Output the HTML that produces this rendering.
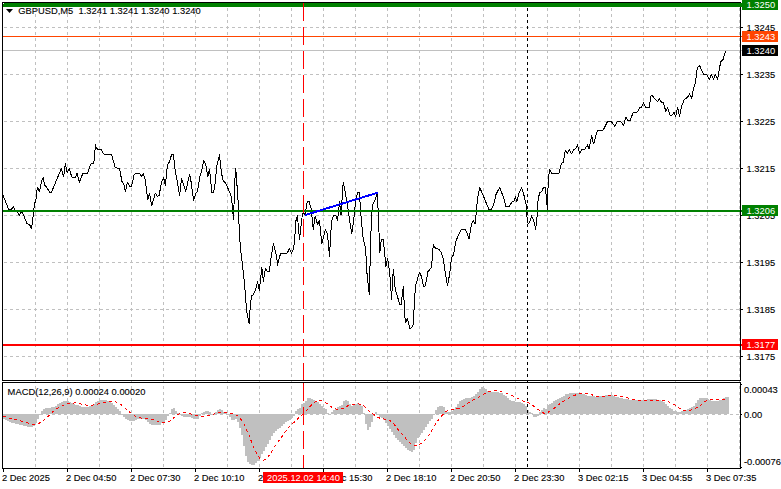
<!DOCTYPE html>
<html><head><meta charset="utf-8"><title>GBPUSD,M5</title>
<style>html,body{margin:0;padding:0;background:#fff;}body{width:781px;height:489px;overflow:hidden;}svg{display:block;position:absolute;left:0;top:0;}text{font-family:"Liberation Sans", sans-serif;font-size:9.8px;fill:#000;white-space:pre;stroke:#000;stroke-width:0.12px;}.w{fill:#fff;stroke:none;}</style></head><body>
<svg width="781" height="489" viewBox="0 0 781 489">
<rect x="0" y="0" width="781" height="489" fill="#fff"/>
<g stroke="#c0c0c0" stroke-width="1" shape-rendering="crispEdges" fill="none">
<line x1="35.5" y1="2" x2="35.5" y2="468" stroke-dasharray="3 3"/>
<line x1="67.5" y1="2" x2="67.5" y2="468" stroke-dasharray="3 3"/>
<line x1="99.5" y1="2" x2="99.5" y2="468" stroke-dasharray="3 3"/>
<line x1="131.5" y1="2" x2="131.5" y2="468" stroke-dasharray="3 3"/>
<line x1="163.5" y1="2" x2="163.5" y2="468" stroke-dasharray="3 3"/>
<line x1="195.5" y1="2" x2="195.5" y2="468" stroke-dasharray="3 3"/>
<line x1="227.5" y1="2" x2="227.5" y2="468" stroke-dasharray="3 3"/>
<line x1="259.5" y1="2" x2="259.5" y2="468" stroke-dasharray="3 3"/>
<line x1="291.5" y1="2" x2="291.5" y2="468" stroke-dasharray="3 3"/>
<line x1="323.5" y1="2" x2="323.5" y2="468" stroke-dasharray="3 3"/>
<line x1="355.5" y1="2" x2="355.5" y2="468" stroke-dasharray="3 3"/>
<line x1="387.5" y1="2" x2="387.5" y2="468" stroke-dasharray="3 3"/>
<line x1="419.5" y1="2" x2="419.5" y2="468" stroke-dasharray="3 3"/>
<line x1="451.5" y1="2" x2="451.5" y2="468" stroke-dasharray="3 3"/>
<line x1="483.5" y1="2" x2="483.5" y2="468" stroke-dasharray="3 3"/>
<line x1="515.5" y1="2" x2="515.5" y2="468" stroke-dasharray="3 3"/>
<line x1="547.5" y1="2" x2="547.5" y2="468" stroke-dasharray="3 3"/>
<line x1="579.5" y1="2" x2="579.5" y2="468" stroke-dasharray="3 3"/>
<line x1="611.5" y1="2" x2="611.5" y2="468" stroke-dasharray="3 3"/>
<line x1="643.5" y1="2" x2="643.5" y2="468" stroke-dasharray="3 3"/>
<line x1="675.5" y1="2" x2="675.5" y2="468" stroke-dasharray="3 3"/>
<line x1="707.5" y1="2" x2="707.5" y2="468" stroke-dasharray="3 3"/>
<line x1="739.5" y1="2" x2="739.5" y2="468" stroke-dasharray="3 3"/>
<line x1="4" y1="27.5" x2="740" y2="27.5" stroke-dasharray="3 3"/>
<line x1="4" y1="74.5" x2="740" y2="74.5" stroke-dasharray="3 3"/>
<line x1="4" y1="121.5" x2="740" y2="121.5" stroke-dasharray="3 3"/>
<line x1="4" y1="168.5" x2="740" y2="168.5" stroke-dasharray="3 3"/>
<line x1="4" y1="215.5" x2="740" y2="215.5" stroke-dasharray="3 3"/>
<line x1="4" y1="262.5" x2="740" y2="262.5" stroke-dasharray="3 3"/>
<line x1="4" y1="309.5" x2="740" y2="309.5" stroke-dasharray="3 3"/>
<line x1="4" y1="356.5" x2="740" y2="356.5" stroke-dasharray="3 3"/>
<line x1="4" y1="414.5" x2="740" y2="414.5" stroke-dasharray="3 3"/>
</g>
<g fill="#c0c0c0" shape-rendering="crispEdges">
<rect x="3" y="414" width="2" height="5"/>
<rect x="5" y="414" width="2" height="6"/>
<rect x="7" y="414" width="2" height="7"/>
<rect x="9" y="414" width="2" height="8"/>
<rect x="11" y="414" width="2" height="9"/>
<rect x="13" y="414" width="2" height="9"/>
<rect x="15" y="414" width="2" height="10"/>
<rect x="17" y="414" width="2" height="10"/>
<rect x="19" y="414" width="2" height="11"/>
<rect x="21" y="414" width="2" height="11"/>
<rect x="23" y="414" width="2" height="12"/>
<rect x="25" y="414" width="2" height="12"/>
<rect x="27" y="414" width="2" height="13"/>
<rect x="29" y="414" width="2" height="13"/>
<rect x="31" y="414" width="2" height="13"/>
<rect x="33" y="414" width="2" height="12"/>
<rect x="35" y="414" width="2" height="9"/>
<rect x="37" y="414" width="2" height="5"/>
<rect x="39" y="414" width="2" height="1"/>
<rect x="41" y="411" width="2" height="3"/>
<rect x="43" y="409" width="2" height="5"/>
<rect x="45" y="408" width="2" height="6"/>
<rect x="47" y="408" width="2" height="6"/>
<rect x="49" y="408" width="2" height="6"/>
<rect x="51" y="407" width="2" height="7"/>
<rect x="53" y="407" width="2" height="7"/>
<rect x="55" y="406" width="2" height="8"/>
<rect x="57" y="404" width="2" height="10"/>
<rect x="59" y="403" width="2" height="11"/>
<rect x="61" y="402" width="2" height="12"/>
<rect x="63" y="401" width="2" height="13"/>
<rect x="65" y="401" width="2" height="13"/>
<rect x="67" y="401" width="2" height="13"/>
<rect x="69" y="402" width="2" height="12"/>
<rect x="71" y="403" width="2" height="11"/>
<rect x="73" y="404" width="2" height="10"/>
<rect x="75" y="405" width="2" height="9"/>
<rect x="77" y="405" width="2" height="9"/>
<rect x="79" y="406" width="2" height="8"/>
<rect x="81" y="407" width="2" height="7"/>
<rect x="83" y="407" width="2" height="7"/>
<rect x="85" y="407" width="2" height="7"/>
<rect x="87" y="407" width="2" height="7"/>
<rect x="89" y="406" width="2" height="8"/>
<rect x="91" y="406" width="2" height="8"/>
<rect x="93" y="404" width="2" height="10"/>
<rect x="95" y="402" width="2" height="12"/>
<rect x="97" y="401" width="2" height="13"/>
<rect x="99" y="400" width="2" height="14"/>
<rect x="101" y="400" width="2" height="14"/>
<rect x="103" y="400" width="2" height="14"/>
<rect x="105" y="400" width="2" height="14"/>
<rect x="107" y="401" width="2" height="13"/>
<rect x="109" y="402" width="2" height="12"/>
<rect x="111" y="403" width="2" height="11"/>
<rect x="113" y="405" width="2" height="9"/>
<rect x="115" y="407" width="2" height="7"/>
<rect x="117" y="409" width="2" height="5"/>
<rect x="119" y="411" width="2" height="3"/>
<rect x="121" y="414" width="2" height="1"/>
<rect x="123" y="414" width="2" height="3"/>
<rect x="125" y="414" width="2" height="5"/>
<rect x="127" y="414" width="2" height="6"/>
<rect x="129" y="414" width="2" height="7"/>
<rect x="131" y="414" width="2" height="7"/>
<rect x="133" y="414" width="2" height="7"/>
<rect x="135" y="414" width="2" height="6"/>
<rect x="137" y="414" width="2" height="5"/>
<rect x="139" y="414" width="2" height="5"/>
<rect x="141" y="414" width="2" height="5"/>
<rect x="143" y="414" width="2" height="5"/>
<rect x="145" y="414" width="2" height="6"/>
<rect x="147" y="414" width="2" height="8"/>
<rect x="149" y="414" width="2" height="10"/>
<rect x="151" y="414" width="2" height="11"/>
<rect x="153" y="414" width="2" height="11"/>
<rect x="155" y="414" width="2" height="11"/>
<rect x="157" y="414" width="2" height="11"/>
<rect x="159" y="414" width="2" height="11"/>
<rect x="161" y="414" width="2" height="9"/>
<rect x="163" y="414" width="2" height="8"/>
<rect x="165" y="414" width="2" height="6"/>
<rect x="167" y="414" width="2" height="2"/>
<rect x="169" y="413" width="2" height="1"/>
<rect x="171" y="409" width="2" height="5"/>
<rect x="173" y="408" width="2" height="6"/>
<rect x="175" y="411" width="2" height="3"/>
<rect x="177" y="413" width="2" height="1"/>
<rect x="179" y="414" width="2" height="1"/>
<rect x="181" y="414" width="2" height="2"/>
<rect x="183" y="414" width="2" height="3"/>
<rect x="185" y="414" width="2" height="3"/>
<rect x="187" y="414" width="2" height="3"/>
<rect x="189" y="414" width="2" height="3"/>
<rect x="191" y="414" width="2" height="4"/>
<rect x="193" y="414" width="2" height="5"/>
<rect x="195" y="414" width="2" height="5"/>
<rect x="197" y="414" width="2" height="5"/>
<rect x="199" y="414" width="2" height="2"/>
<rect x="201" y="413" width="2" height="1"/>
<rect x="203" y="412" width="2" height="2"/>
<rect x="205" y="411" width="2" height="3"/>
<rect x="207" y="411" width="2" height="3"/>
<rect x="209" y="412" width="2" height="2"/>
<rect x="211" y="414" width="2" height="1"/>
<rect x="213" y="414" width="2" height="1"/>
<rect x="215" y="412" width="2" height="2"/>
<rect x="217" y="410" width="2" height="4"/>
<rect x="219" y="409" width="2" height="5"/>
<rect x="221" y="410" width="2" height="4"/>
<rect x="223" y="412" width="2" height="2"/>
<rect x="225" y="413" width="2" height="1"/>
<rect x="227" y="414" width="2" height="1"/>
<rect x="229" y="414" width="2" height="3"/>
<rect x="231" y="414" width="2" height="6"/>
<rect x="233" y="414" width="2" height="6"/>
<rect x="235" y="414" width="2" height="5"/>
<rect x="237" y="414" width="2" height="8"/>
<rect x="239" y="414" width="2" height="14"/>
<rect x="241" y="414" width="2" height="21"/>
<rect x="243" y="414" width="2" height="32"/>
<rect x="245" y="414" width="2" height="42"/>
<rect x="247" y="414" width="2" height="48"/>
<rect x="249" y="414" width="2" height="50"/>
<rect x="251" y="414" width="2" height="51"/>
<rect x="253" y="414" width="2" height="51"/>
<rect x="255" y="414" width="2" height="49"/>
<rect x="257" y="414" width="2" height="47"/>
<rect x="259" y="414" width="2" height="44"/>
<rect x="261" y="414" width="2" height="40"/>
<rect x="263" y="414" width="2" height="37"/>
<rect x="265" y="414" width="2" height="33"/>
<rect x="267" y="414" width="2" height="30"/>
<rect x="269" y="414" width="2" height="26"/>
<rect x="271" y="414" width="2" height="22"/>
<rect x="273" y="414" width="2" height="19"/>
<rect x="275" y="414" width="2" height="17"/>
<rect x="277" y="414" width="2" height="15"/>
<rect x="279" y="414" width="2" height="14"/>
<rect x="281" y="414" width="2" height="12"/>
<rect x="283" y="414" width="2" height="10"/>
<rect x="285" y="414" width="2" height="8"/>
<rect x="287" y="414" width="2" height="7"/>
<rect x="289" y="414" width="2" height="6"/>
<rect x="291" y="414" width="2" height="4"/>
<rect x="293" y="414" width="2" height="2"/>
<rect x="295" y="411" width="2" height="3"/>
<rect x="297" y="409" width="2" height="5"/>
<rect x="299" y="408" width="2" height="6"/>
<rect x="301" y="404" width="2" height="10"/>
<rect x="303" y="403" width="2" height="11"/>
<rect x="305" y="401" width="2" height="13"/>
<rect x="307" y="398" width="2" height="16"/>
<rect x="309" y="398" width="2" height="16"/>
<rect x="311" y="399" width="2" height="15"/>
<rect x="313" y="400" width="2" height="14"/>
<rect x="315" y="401" width="2" height="13"/>
<rect x="317" y="402" width="2" height="12"/>
<rect x="319" y="404" width="2" height="10"/>
<rect x="321" y="406" width="2" height="8"/>
<rect x="323" y="408" width="2" height="6"/>
<rect x="325" y="409" width="2" height="5"/>
<rect x="327" y="413" width="2" height="1"/>
<rect x="329" y="414" width="2" height="1"/>
<rect x="331" y="412" width="2" height="2"/>
<rect x="333" y="410" width="2" height="4"/>
<rect x="335" y="409" width="2" height="5"/>
<rect x="337" y="407" width="2" height="7"/>
<rect x="339" y="406" width="2" height="8"/>
<rect x="341" y="405" width="2" height="9"/>
<rect x="343" y="401" width="2" height="13"/>
<rect x="345" y="400" width="2" height="14"/>
<rect x="347" y="401" width="2" height="13"/>
<rect x="349" y="404" width="2" height="10"/>
<rect x="351" y="406" width="2" height="8"/>
<rect x="353" y="405" width="2" height="9"/>
<rect x="355" y="404" width="2" height="10"/>
<rect x="357" y="403" width="2" height="11"/>
<rect x="359" y="404" width="2" height="10"/>
<rect x="361" y="406" width="2" height="8"/>
<rect x="363" y="413" width="2" height="1"/>
<rect x="365" y="414" width="2" height="10"/>
<rect x="367" y="414" width="2" height="16"/>
<rect x="369" y="414" width="2" height="13"/>
<rect x="371" y="414" width="2" height="8"/>
<rect x="373" y="414" width="2" height="2"/>
<rect x="375" y="412" width="2" height="2"/>
<rect x="377" y="414" width="2" height="1"/>
<rect x="379" y="414" width="2" height="3"/>
<rect x="381" y="414" width="2" height="4"/>
<rect x="383" y="414" width="2" height="6"/>
<rect x="385" y="414" width="2" height="9"/>
<rect x="387" y="414" width="2" height="12"/>
<rect x="389" y="414" width="2" height="15"/>
<rect x="391" y="414" width="2" height="18"/>
<rect x="393" y="414" width="2" height="21"/>
<rect x="395" y="414" width="2" height="24"/>
<rect x="397" y="414" width="2" height="26"/>
<rect x="399" y="414" width="2" height="28"/>
<rect x="401" y="414" width="2" height="30"/>
<rect x="403" y="414" width="2" height="32"/>
<rect x="405" y="414" width="2" height="34"/>
<rect x="407" y="414" width="2" height="36"/>
<rect x="409" y="414" width="2" height="37"/>
<rect x="411" y="414" width="2" height="38"/>
<rect x="413" y="414" width="2" height="36"/>
<rect x="415" y="414" width="2" height="29"/>
<rect x="417" y="414" width="2" height="24"/>
<rect x="419" y="414" width="2" height="21"/>
<rect x="421" y="414" width="2" height="19"/>
<rect x="423" y="414" width="2" height="16"/>
<rect x="425" y="414" width="2" height="13"/>
<rect x="427" y="414" width="2" height="10"/>
<rect x="429" y="414" width="2" height="7"/>
<rect x="431" y="414" width="2" height="5"/>
<rect x="433" y="414" width="2" height="1"/>
<rect x="435" y="410" width="2" height="4"/>
<rect x="437" y="407" width="2" height="7"/>
<rect x="439" y="406" width="2" height="8"/>
<rect x="441" y="406" width="2" height="8"/>
<rect x="443" y="407" width="2" height="7"/>
<rect x="445" y="411" width="2" height="3"/>
<rect x="447" y="412" width="2" height="2"/>
<rect x="449" y="412" width="2" height="2"/>
<rect x="451" y="411" width="2" height="3"/>
<rect x="453" y="409" width="2" height="5"/>
<rect x="455" y="407" width="2" height="7"/>
<rect x="457" y="404" width="2" height="10"/>
<rect x="459" y="401" width="2" height="13"/>
<rect x="461" y="400" width="2" height="14"/>
<rect x="463" y="399" width="2" height="15"/>
<rect x="465" y="398" width="2" height="16"/>
<rect x="467" y="398" width="2" height="16"/>
<rect x="469" y="398" width="2" height="16"/>
<rect x="471" y="397" width="2" height="17"/>
<rect x="473" y="396" width="2" height="18"/>
<rect x="475" y="394" width="2" height="20"/>
<rect x="477" y="392" width="2" height="22"/>
<rect x="479" y="389" width="2" height="25"/>
<rect x="481" y="387" width="2" height="27"/>
<rect x="483" y="388" width="2" height="26"/>
<rect x="485" y="389" width="2" height="25"/>
<rect x="487" y="391" width="2" height="23"/>
<rect x="489" y="391" width="2" height="23"/>
<rect x="491" y="392" width="2" height="22"/>
<rect x="493" y="392" width="2" height="22"/>
<rect x="495" y="392" width="2" height="22"/>
<rect x="497" y="392" width="2" height="22"/>
<rect x="499" y="393" width="2" height="21"/>
<rect x="501" y="393" width="2" height="21"/>
<rect x="503" y="395" width="2" height="19"/>
<rect x="505" y="396" width="2" height="18"/>
<rect x="507" y="398" width="2" height="16"/>
<rect x="509" y="400" width="2" height="14"/>
<rect x="511" y="401" width="2" height="13"/>
<rect x="513" y="401" width="2" height="13"/>
<rect x="515" y="402" width="2" height="12"/>
<rect x="517" y="402" width="2" height="12"/>
<rect x="519" y="402" width="2" height="12"/>
<rect x="521" y="403" width="2" height="11"/>
<rect x="523" y="404" width="2" height="10"/>
<rect x="525" y="406" width="2" height="8"/>
<rect x="527" y="410" width="2" height="4"/>
<rect x="529" y="412" width="2" height="2"/>
<rect x="531" y="413" width="2" height="1"/>
<rect x="533" y="414" width="2" height="3"/>
<rect x="535" y="414" width="2" height="3"/>
<rect x="537" y="414" width="2" height="2"/>
<rect x="539" y="412" width="2" height="2"/>
<rect x="541" y="410" width="2" height="4"/>
<rect x="543" y="408" width="2" height="6"/>
<rect x="545" y="409" width="2" height="5"/>
<rect x="547" y="405" width="2" height="9"/>
<rect x="549" y="404" width="2" height="10"/>
<rect x="551" y="403" width="2" height="11"/>
<rect x="553" y="401" width="2" height="13"/>
<rect x="555" y="400" width="2" height="14"/>
<rect x="557" y="399" width="2" height="15"/>
<rect x="559" y="398" width="2" height="16"/>
<rect x="561" y="397" width="2" height="17"/>
<rect x="563" y="396" width="2" height="18"/>
<rect x="565" y="394" width="2" height="20"/>
<rect x="567" y="394" width="2" height="20"/>
<rect x="569" y="393" width="2" height="21"/>
<rect x="571" y="393" width="2" height="21"/>
<rect x="573" y="393" width="2" height="21"/>
<rect x="575" y="393" width="2" height="21"/>
<rect x="577" y="393" width="2" height="21"/>
<rect x="579" y="393" width="2" height="21"/>
<rect x="581" y="394" width="2" height="20"/>
<rect x="583" y="394" width="2" height="20"/>
<rect x="585" y="395" width="2" height="19"/>
<rect x="587" y="396" width="2" height="18"/>
<rect x="589" y="396" width="2" height="18"/>
<rect x="591" y="396" width="2" height="18"/>
<rect x="593" y="396" width="2" height="18"/>
<rect x="595" y="397" width="2" height="17"/>
<rect x="597" y="396" width="2" height="18"/>
<rect x="599" y="396" width="2" height="18"/>
<rect x="601" y="396" width="2" height="18"/>
<rect x="603" y="396" width="2" height="18"/>
<rect x="605" y="395" width="2" height="19"/>
<rect x="607" y="395" width="2" height="19"/>
<rect x="609" y="395" width="2" height="19"/>
<rect x="611" y="395" width="2" height="19"/>
<rect x="613" y="396" width="2" height="18"/>
<rect x="615" y="397" width="2" height="17"/>
<rect x="617" y="397" width="2" height="17"/>
<rect x="619" y="398" width="2" height="16"/>
<rect x="621" y="398" width="2" height="16"/>
<rect x="623" y="399" width="2" height="15"/>
<rect x="625" y="399" width="2" height="15"/>
<rect x="627" y="399" width="2" height="15"/>
<rect x="629" y="400" width="2" height="14"/>
<rect x="631" y="400" width="2" height="14"/>
<rect x="633" y="400" width="2" height="14"/>
<rect x="635" y="400" width="2" height="14"/>
<rect x="637" y="400" width="2" height="14"/>
<rect x="639" y="400" width="2" height="14"/>
<rect x="641" y="400" width="2" height="14"/>
<rect x="643" y="400" width="2" height="14"/>
<rect x="645" y="400" width="2" height="14"/>
<rect x="647" y="399" width="2" height="15"/>
<rect x="649" y="399" width="2" height="15"/>
<rect x="651" y="399" width="2" height="15"/>
<rect x="653" y="399" width="2" height="15"/>
<rect x="655" y="399" width="2" height="15"/>
<rect x="657" y="400" width="2" height="14"/>
<rect x="659" y="400" width="2" height="14"/>
<rect x="661" y="401" width="2" height="13"/>
<rect x="663" y="402" width="2" height="12"/>
<rect x="665" y="404" width="2" height="10"/>
<rect x="667" y="406" width="2" height="8"/>
<rect x="669" y="408" width="2" height="6"/>
<rect x="671" y="409" width="2" height="5"/>
<rect x="673" y="411" width="2" height="3"/>
<rect x="675" y="411" width="2" height="3"/>
<rect x="677" y="412" width="2" height="2"/>
<rect x="679" y="412" width="2" height="2"/>
<rect x="681" y="411" width="2" height="3"/>
<rect x="683" y="411" width="2" height="3"/>
<rect x="685" y="410" width="2" height="4"/>
<rect x="687" y="409" width="2" height="5"/>
<rect x="689" y="408" width="2" height="6"/>
<rect x="691" y="407" width="2" height="7"/>
<rect x="693" y="406" width="2" height="8"/>
<rect x="695" y="403" width="2" height="11"/>
<rect x="697" y="400" width="2" height="14"/>
<rect x="699" y="398" width="2" height="16"/>
<rect x="701" y="398" width="2" height="16"/>
<rect x="703" y="398" width="2" height="16"/>
<rect x="705" y="398" width="2" height="16"/>
<rect x="707" y="399" width="2" height="15"/>
<rect x="709" y="400" width="2" height="14"/>
<rect x="711" y="401" width="2" height="13"/>
<rect x="713" y="401" width="2" height="13"/>
<rect x="715" y="401" width="2" height="13"/>
<rect x="717" y="401" width="2" height="13"/>
<rect x="719" y="400" width="2" height="14"/>
<rect x="721" y="400" width="2" height="14"/>
<rect x="723" y="398" width="2" height="16"/>
<rect x="725" y="397" width="2" height="17"/>
<rect x="727" y="397" width="2" height="17"/>
</g>
<polyline points="3.0,416.1 8.3,417.8 16.6,420.0 25.0,422.0 30.0,423.6 34.1,424.4 39.1,423.3 43.3,420.6 47.4,417.0 51.6,412.8 56.6,408.6 63.2,405.3 69.9,403.3 76.6,402.8 83.2,404.5 89.9,405.6 96.5,404.5 104.9,402.3 113.2,401.5 118.2,402.3 123.2,406.5 126.7,409.6 130.8,413.0 135.8,416.6 141.6,418.3 148.3,418.5 154.1,419.6 160.0,422.5 165.8,423.0 169.9,421.3 174.1,417.6 178.3,414.3 184.1,412.6 189.9,413.5 195.7,415.5 201.6,416.6 207.4,415.5 213.2,414.3 219.9,412.1 226.5,412.6 233.2,413.5 238.2,416.3 242.5,421.3 245.8,428.0 249.2,435.4 252.5,444.6 255.8,452.0 260.0,458.7 263.3,460.4 266.6,458.7 270.8,452.9 275.0,446.3 279.1,440.4 283.3,434.6 288.3,428.0 293.3,423.0 299.1,417.6 304.1,413.0 308.2,408.8 312.4,403.8 316.6,401.0 322.4,400.5 327.4,403.8 332.4,407.6 337.4,409.6 342.4,408.8 347.4,406.0 352.3,404.3 358.2,403.8 363.3,405.5 367.5,409.6 371.7,413.0 375.8,416.0 380.8,418.8 387.5,419.3 392.5,422.1 397.5,428.8 402.4,434.6 407.4,440.4 412.4,444.9 418.3,445.4 424.1,441.3 429.1,434.6 433.2,428.0 436.6,422.1 440.7,417.0 445.7,411.3 451.5,409.6 459.0,408.3 464.9,405.5 470.7,401.3 476.5,398.3 481.7,395.3 487.5,391.7 494.1,390.3 500.8,391.5 506.6,393.3 512.5,395.8 518.3,398.6 524.1,401.6 529.9,403.3 535.8,407.8 540.8,411.6 544.1,413.3 548.2,412.3 554.1,408.3 559.9,403.6 566.6,399.5 572.4,396.1 578.2,394.0 584.9,393.6 590.7,394.5 596.5,396.1 603.2,396.6 607.5,396.1 614.1,395.3 620.8,396.6 627.5,397.8 633.3,399.5 639.9,400.3 646.6,400.3 653.3,400.3 659.9,400.3 666.6,401.1 671.6,403.3 675.7,405.3 679.9,408.6 683.2,410.6 686.6,410.6 691.5,410.0 696.5,407.8 701.5,404.5 705.7,401.1 709.9,400.0 716.5,399.5 723.2,400.0 725.7,399.5" fill="none" stroke="#ff0000" stroke-width="1" stroke-dasharray="3 3" shape-rendering="crispEdges"/>
<polyline points="3.0,195.3 5.0,200.0 8.8,209.9 11.2,209.7 13.4,206.4 15.0,209.9 18.2,212.9 19.3,215.6 20.6,212.3 22.4,212.3 26.9,223.5 29.6,224.6 31.5,228.6 32.7,219.3 34.3,205.2 36.2,198.0 36.8,190.5 37.6,187.3 39.4,191.7 41.6,181.0 43.4,177.4 44.3,184.6 46.6,187.3 49.7,192.2 51.5,192.2 61.4,168.4 63.6,177.0 65.4,163.5 67.2,172.9 69.4,168.4 71.7,177.0 75.7,177.0 77.0,173.4 79.3,182.3 82.9,173.4 87.4,173.4 90.9,164.0 93.6,163.0 94.5,158.6 95.4,144.2 95.9,147.3 97.4,149.1 101.0,149.3 103.6,154.0 111.5,154.2 115.3,167.8 119.4,168.3 122.0,181.5 123.7,184.0 125.4,191.6 127.4,182.3 129.6,186.4 131.4,187.0 134.1,175.0 135.6,173.3 139.4,173.3 141.8,176.8 143.3,173.6 145.2,180.0 147.8,200.0 149.5,193.3 151.6,205.8 155.4,193.0 157.4,196.3 159.1,195.8 161.6,181.6 163.6,177.5 165.3,185.8 167.4,165.0 169.1,162.5 171.6,154.7 173.3,154.2 175.3,171.6 177.4,181.6 179.6,195.8 181.6,178.3 185.7,191.6 189.6,174.1 191.2,182.5 193.6,200.8 195.7,193.3 197.4,191.6 199.9,176.6 201.6,171.6 203.7,160.0 205.7,164.1 207.9,176.6 209.5,169.1 211.9,192.4 213.5,192.4 214.9,185.0 216.9,165.8 219.4,155.0 221.5,173.3 223.2,180.8 225.7,183.3 229.8,192.4 231.5,197.4 233.5,219.9 234.8,180.8 235.7,168.3 236.8,182.5 238.5,207.4 239.3,233.7 241.4,257.0 242.1,262.0 243.8,276.9 245.6,295.9 246.3,308.6 247.7,316.4 249.2,323.8 249.4,317.0 250.6,303.0 251.7,295.9 253.1,295.2 255.5,290.3 257.6,281.8 259.3,290.3 261.9,267.7 263.3,281.1 265.4,268.4 267.2,271.2 269.3,271.2 271.0,258.4 273.4,243.4 275.4,251.5 276.9,257.6 277.4,266.0 279.5,256.5 281.1,253.4 287.3,253.0 289.4,248.4 291.5,253.0 293.4,249.2 294.6,241.8 295.6,222.0 297.4,215.4 299.5,239.6 302.5,213.3 303.5,212.6 304.9,214.7 307.3,202.0 309.1,201.3 311.2,209.0 313.3,229.5 315.2,216.1 317.6,224.6 319.4,220.3 321.8,243.6 325.3,229.5 327.4,233.7 329.5,256.3 331.5,221.5 333.6,215.7 335.8,215.7 337.6,220.1 339.6,201.8 341.0,215.2 343.2,182.0 344.6,189.1 347.0,201.8 349.2,217.3 351.7,233.8 353.7,220.1 355.5,202.5 357.6,192.6 359.3,192.6 361.1,217.3 363.2,239.0 365.5,247.5 367.1,274.9 369.3,294.9 370.5,245.0 371.7,211.7 373.1,203.2 375.2,199.7 377.1,193.3 378.1,208.8 379.5,245.0 379.8,252.5 381.3,239.6 383.3,239.6 384.6,252.5 385.9,266.6 387.6,258.3 388.8,266.6 390.4,279.9 391.5,300.0 393.3,269.1 395.4,290.5 396.9,294.3 399.5,304.2 401.3,304.2 402.5,291.3 403.5,286.9 403.8,295.4 404.6,313.8 405.6,323.0 407.1,318.4 408.5,322.0 409.7,328.1 411.2,328.1 413.3,324.6 413.8,313.8 414.8,296.4 415.5,285.5 419.6,272.4 421.2,275.8 423.7,286.6 425.4,285.8 427.9,271.6 430.9,268.3 432.5,258.3 433.2,244.1 435.4,248.3 438.7,249.1 441.2,252.5 443.2,258.3 445.4,273.3 447.5,285.8 449.5,274.9 451.5,258.3 453.7,254.1 455.8,241.6 458.2,235.5 461.6,229.3 465.3,229.1 467.5,234.1 469.1,239.1 471.6,223.2 473.6,220.8 475.0,224.1 475.8,217.4 477.5,199.1 479.6,187.5 481.6,191.6 485.0,200.0 489.1,210.0 491.6,209.1 493.6,205.0 495.8,195.0 499.6,187.5 503.3,196.6 505.8,206.3 509.1,206.3 512.4,201.6 514.1,200.8 515.3,196.6 516.9,201.6 519.1,192.5 521.6,187.5 524.1,195.8 526.2,205.0 526.9,216.6 528.2,224.1 529.9,221.6 531.6,215.8 533.6,219.9 535.7,229.1 536.9,218.3 538.2,198.3 539.9,192.5 541.6,191.6 543.5,187.5 545.4,187.5 546.5,198.3 547.4,210.0 548.2,181.6 549.6,169.1 551.6,173.3 559.0,173.3 561.4,163.5 563.4,162.4 565.3,150.0 567.5,153.3 569.5,149.6 571.6,154.0 573.6,150.0 575.8,148.3 577.5,145.0 579.6,153.6 581.6,149.6 585.0,149.0 587.4,145.0 589.1,149.0 591.6,135.8 593.6,144.0 597.4,130.3 603.3,130.0 607.4,121.6 611.2,121.6 614.9,126.3 617.4,121.6 620.7,121.3 623.6,125.8 625.7,117.0 627.9,120.8 629.9,120.8 633.2,112.5 637.2,112.0 639.8,107.8 641.7,107.0 643.5,102.8 645.5,107.2 649.4,107.2 650.7,96.6 651.8,95.0 653.5,97.2 657.4,101.6 659.4,98.8 661.4,102.1 663.4,102.6 665.8,111.3 667.5,107.6 670.5,116.0 672.3,115.0 674.2,112.2 675.6,116.5 677.6,107.3 679.5,116.8 681.5,106.5 684.5,99.2 687.6,97.3 689.6,93.9 691.8,98.1 693.3,89.6 695.3,83.5 697.3,67.4 699.5,65.4 703.4,74.0 706.8,74.6 709.4,79.2 711.4,74.3 713.7,79.2 715.3,74.3 717.6,79.2 720.7,61.7 723.0,59.7 725.6,50.9 726.5,50.0" fill="none" stroke="#000" stroke-width="1" stroke-linejoin="round" shape-rendering="crispEdges"/>
<g shape-rendering="crispEdges">
<rect x="3" y="50" width="739" height="1" fill="#c0c0c0"/>
<rect x="3" y="36" width="739" height="1" fill="#ff4500"/>
<rect x="3" y="210" width="739" height="2" fill="#008000"/>
<rect x="3" y="344" width="739" height="2" fill="#ff0000"/>
</g>
<line x1="305" y1="215.1" x2="377.6" y2="192.7" stroke="#0000ff" stroke-width="2" shape-rendering="crispEdges"/>
<g shape-rendering="crispEdges">
<rect x="3" y="3" width="740" height="4" fill="#008000"/>
<rect x="303" y="3" width="1" height="18" fill="#ff0000"/>
<rect x="303" y="27" width="1" height="18" fill="#ff0000"/>
<rect x="303" y="51" width="1" height="18" fill="#ff0000"/>
<rect x="303" y="75" width="1" height="18" fill="#ff0000"/>
<rect x="303" y="99" width="1" height="18" fill="#ff0000"/>
<rect x="303" y="123" width="1" height="18" fill="#ff0000"/>
<rect x="303" y="147" width="1" height="18" fill="#ff0000"/>
<rect x="303" y="171" width="1" height="18" fill="#ff0000"/>
<rect x="303" y="195" width="1" height="18" fill="#ff0000"/>
<rect x="303" y="219" width="1" height="18" fill="#ff0000"/>
<rect x="303" y="243" width="1" height="18" fill="#ff0000"/>
<rect x="303" y="267" width="1" height="18" fill="#ff0000"/>
<rect x="303" y="291" width="1" height="18" fill="#ff0000"/>
<rect x="303" y="315" width="1" height="18" fill="#ff0000"/>
<rect x="303" y="339" width="1" height="18" fill="#ff0000"/>
<rect x="303" y="363" width="1" height="17" fill="#ff0000"/>
<rect x="303" y="383" width="1" height="18" fill="#ff0000"/>
<rect x="303" y="407" width="1" height="18" fill="#ff0000"/>
<rect x="303" y="431" width="1" height="18" fill="#ff0000"/>
<rect x="303" y="455" width="1" height="13" fill="#ff0000"/>
<line x1="527.5" y1="8" x2="527.5" y2="468" stroke="#000" stroke-width="1" stroke-dasharray="3 3"/>
<rect x="2" y="2" width="739" height="1" fill="#000"/>
<rect x="2" y="2" width="1" height="379" fill="#000"/>
<rect x="2" y="380" width="739" height="1" fill="#000"/>
<rect x="740" y="7" width="1" height="374" fill="#000"/>
<rect x="2" y="382" width="739" height="1" fill="#000"/>
<rect x="2" y="382" width="1" height="87" fill="#000"/>
<rect x="2" y="468" width="739" height="1" fill="#000"/>
<rect x="740" y="382" width="1" height="87" fill="#000"/>
<rect x="3" y="3" width="1" height="1" fill="#fff"/>
<rect x="741" y="27" width="2" height="1" fill="#000"/>
<rect x="741" y="74" width="2" height="1" fill="#000"/>
<rect x="741" y="121" width="2" height="1" fill="#000"/>
<rect x="741" y="168" width="2" height="1" fill="#000"/>
<rect x="741" y="215" width="2" height="1" fill="#000"/>
<rect x="741" y="262" width="2" height="1" fill="#000"/>
<rect x="741" y="309" width="2" height="1" fill="#000"/>
<rect x="741" y="356" width="2" height="1" fill="#000"/>
<rect x="741" y="384" width="1" height="1" fill="#000"/>
<rect x="741" y="414" width="1" height="1" fill="#000"/>
<rect x="741" y="467" width="1" height="1" fill="#000"/>
<rect x="3" y="469" width="1" height="3" fill="#000"/>
<rect x="67" y="469" width="1" height="3" fill="#000"/>
<rect x="131" y="469" width="1" height="3" fill="#000"/>
<rect x="195" y="469" width="1" height="3" fill="#000"/>
<rect x="259" y="469" width="1" height="3" fill="#000"/>
<rect x="323" y="469" width="1" height="3" fill="#000"/>
<rect x="387" y="469" width="1" height="3" fill="#000"/>
<rect x="451" y="469" width="1" height="3" fill="#000"/>
<rect x="515" y="469" width="1" height="3" fill="#000"/>
<rect x="579" y="469" width="1" height="3" fill="#000"/>
<rect x="643" y="469" width="1" height="3" fill="#000"/>
<rect x="707" y="469" width="1" height="3" fill="#000"/>
</g>
<polygon points="6,9 13,9 9.5,13" fill="#000"/>
<text transform="translate(18.2,14) scale(0.955,1)">GBPUSD,M5  1.3241 1.3241 1.3240 1.3240</text>
<text transform="translate(7.6,395) scale(0.955,1)">MACD(12,26,9) 0.00024 0.00020</text>
<text transform="translate(746.5,31) scale(0.955,1)">1.3245</text>
<text transform="translate(746.5,78) scale(0.955,1)">1.3235</text>
<text transform="translate(746.5,125) scale(0.955,1)">1.3225</text>
<text transform="translate(746.5,172) scale(0.955,1)">1.3215</text>
<text transform="translate(746.5,219) scale(0.955,1)">1.3205</text>
<text transform="translate(746.5,266) scale(0.955,1)">1.3195</text>
<text transform="translate(746.5,313) scale(0.955,1)">1.3185</text>
<text transform="translate(746.5,360) scale(0.955,1)">1.3175</text>
<rect x="742" y="-1" width="36" height="11" fill="#008000" shape-rendering="crispEdges"/>
<text class="w" transform="translate(746.5,8) scale(0.955,1)">1.3250</text>
<rect x="742" y="31" width="36" height="11" fill="#ff4500" shape-rendering="crispEdges"/>
<text class="w" transform="translate(746.5,40) scale(0.955,1)">1.3243</text>
<rect x="742" y="45" width="36" height="11" fill="#000000" shape-rendering="crispEdges"/>
<text class="w" transform="translate(746.5,54) scale(0.955,1)">1.3240</text>
<rect x="742" y="205" width="36" height="11" fill="#008000" shape-rendering="crispEdges"/>
<text class="w" transform="translate(746.5,214) scale(0.955,1)">1.3206</text>
<rect x="742" y="339" width="36" height="11" fill="#ff0000" shape-rendering="crispEdges"/>
<text class="w" transform="translate(746.5,348) scale(0.955,1)">1.3177</text>
<text transform="translate(744,393) scale(0.955,1)">0.00043</text>
<text transform="translate(744,418) scale(0.955,1)">0.00</text>
<text transform="translate(744,465) scale(0.955,1)">-0.00076</text>
<text transform="translate(2,481) scale(0.955,1)">2 Dec 2025</text>
<text transform="translate(66,481) scale(0.955,1)">2 Dec 04:50</text>
<text transform="translate(130,481) scale(0.955,1)">2 Dec 07:30</text>
<text transform="translate(194,481) scale(0.955,1)">2 Dec 10:10</text>
<text transform="translate(258,481) scale(0.955,1)">2 Dec 12:50</text>
<text transform="translate(322,481) scale(0.955,1)">2 Dec 15:30</text>
<text transform="translate(386,481) scale(0.955,1)">2 Dec 18:10</text>
<text transform="translate(450,481) scale(0.955,1)">2 Dec 20:50</text>
<text transform="translate(514,481) scale(0.955,1)">2 Dec 23:30</text>
<text transform="translate(578,481) scale(0.955,1)">3 Dec 02:15</text>
<text transform="translate(642,481) scale(0.955,1)">3 Dec 04:55</text>
<text transform="translate(706,481) scale(0.955,1)">3 Dec 07:35</text>
<rect x="263" y="472" width="80" height="11" fill="#ff0000" shape-rendering="crispEdges"/>
<text class="w" transform="translate(267,481) scale(0.955,1)">2025.12.02 14:40</text>
</svg></body></html>
